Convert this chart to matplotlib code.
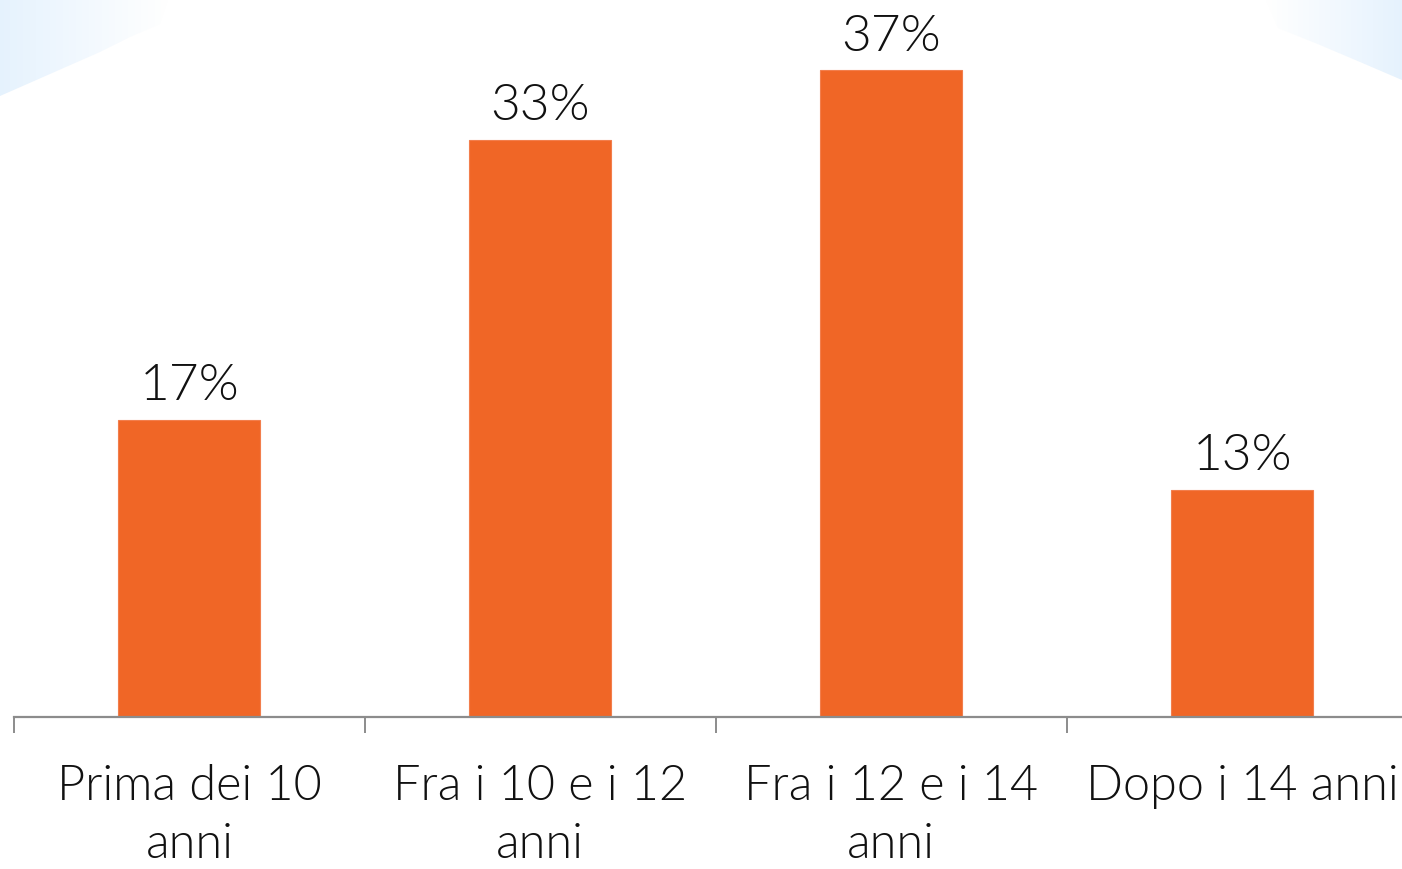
import numpy as np
import matplotlib.pyplot as plt
from matplotlib import font_manager as fm
from matplotlib.patches import Polygon

categories = ["Prima dei 10\nanni", "Fra i 10 e i 12\nanni", "Fra i 12 e i 14\nanni", "Dopo i 14 anni"]
values = [17, 33, 37, 13]
value_labels = ["17%", "33%", "37%", "13%"]

BAR_COLOR = "#F06626"
AXIS_COLOR = "#8C8C8C"

plt.rcParams['font.family'] = ['Lato', 'DejaVu Sans']

# pick Lato Light by file, the weight lookup lands on Hairline otherwise
light_path = next((f.fname for f in fm.fontManager.ttflist
                   if f.fname.endswith('Lato-Light.ttf')), None)

def lfont(size):
    if light_path:
        return fm.FontProperties(fname=light_path, size=size)
    return fm.FontProperties(family='Lato', size=size)

W, H = 1402, 869
fig = plt.figure(figsize=(W / 100, H / 100), dpi=100)

# decorative light-blue corners in pixel coords
bg = fig.add_axes([0, 0, 1, 1], zorder=0)
bg.set_xlim(0, W)
bg.set_ylim(H, 0)
bg.axis('off')
grad = np.linspace(0, 1, 256).reshape(1, -1)
light = np.array([0.90, 0.95, 0.995])
white = np.array([1.0, 1.0, 1.0])

def corner(pts, x0, x1, reverse=False):
    t = grad if not reverse else grad[:, ::-1]
    img = light[None, None, :] * (1 - t[..., None]) + white[None, None, :] * t[..., None]
    poly = Polygon(pts, closed=True, facecolor='none', edgecolor='none')
    bg.add_patch(poly)
    im = bg.imshow(img, extent=(x0, x1, 100, 0), aspect='auto', interpolation='bilinear')
    im.set_clip_path(poly)

corner([(0, 0), (168, 0), (160, 24), (130, 37), (100, 52), (50, 74), (0, 96)], 0, 168)
corner([(1266, 0), (W, 0), (W, 80), (1360, 62), (1320, 45), (1278, 28)], 1266, W, reverse=True)
bg.set_xlim(0, W)
bg.set_ylim(H, 0)

ax = fig.add_axes([14 / W, 152 / H, 1403.5 / W, 717 / H], zorder=1)
ax.patch.set_alpha(0)
x = np.arange(len(values))
ax.bar(x, values, width=0.405, color=BAR_COLOR, edgecolor="#F27E4C", linewidth=0.8)
ax.set_xlim(-0.5, len(values) - 0.5)
ax.set_ylim(0, 41)

for xi, v, lab in zip(x, values, value_labels):
    ax.annotate(lab, (xi, v), xytext=(0, 14), textcoords='offset points',
                ha='center', va='baseline', fontproperties=lfont(37), color='#111111')

for s in ['top', 'right', 'left']:
    ax.spines[s].set_visible(False)
ax.spines['bottom'].set_color(AXIS_COLOR)
ax.spines['bottom'].set_linewidth(1.6)
ax.set_yticks([])

ax.set_xticks(np.arange(len(values) + 1) - 0.5)
ax.set_xticklabels([])
ax.tick_params(axis='x', which='major', length=11.5, width=1.4, color=AXIS_COLOR)
ax.set_xticks(x, minor=True)
ax.set_xticklabels(categories, minor=True, fontproperties=lfont(35),
                   color='#111111', linespacing=1.36)
ax.tick_params(axis='x', which='minor', length=0, pad=34)

fig.savefig("out.png", dpi=100)
